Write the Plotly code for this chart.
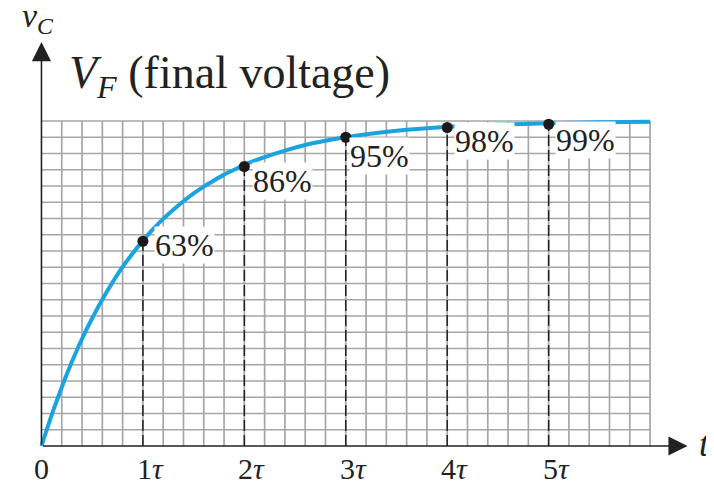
import numpy as np
import plotly.graph_objects as go

# ---- data ----
t_curve = [0, 0.1, 0.2, 0.3, 0.4, 0.5, 0.6, 0.7, 0.8, 0.9, 1.0, 1.1, 1.2, 1.3, 1.4,
           1.5, 1.6, 1.7, 1.8, 1.9, 2.0, 2.2, 2.4, 2.6, 2.8, 3.0, 3.3, 3.6, 4.0,
           4.5, 5.0, 5.5, 6.0]
v_curve = [0, 0.095, 0.181, 0.259, 0.330, 0.393, 0.451, 0.503, 0.551, 0.593, 0.632,
           0.667, 0.699, 0.727, 0.753, 0.777, 0.798, 0.817, 0.835, 0.850, 0.865,
           0.889, 0.909, 0.926, 0.939, 0.950, 0.963, 0.973, 0.982, 0.989, 0.993,
           0.996, 0.998]
tau_marks = [1, 2, 3, 4, 5]
pct_marks = [63, 86, 95, 98, 99]
pct_labels = ["63%", "86%", "95%", "98%", "99%"]
tick_vals = [0, 1, 2, 3, 4, 5]
tick_text = ["0", "1<i>τ</i>", "2<i>τ</i>", "3<i>τ</i>", "4<i>τ</i>", "5<i>τ</i>"]

SERIF = "Liberation Serif, Times New Roman, serif"
GRID = "#a6a6a6"
BLUE = "#1aa3e0"
INK = "#222222"

fig = go.Figure()

# grid (0.2 tau columns, 0.05 rows)
gx, gy = [], []
for x in np.arange(0.2, 6.0001, 0.2):
    gx += [x, x, None]
    gy += [0, 1, None]
for y in np.arange(0.05, 1.0001, 0.05):
    gx += [0, 6, None]
    gy += [y, y, None]
fig.add_trace(go.Scatter(x=gx, y=gy, mode="lines",
                         line=dict(color=GRID, width=1.7),
                         hoverinfo="skip", showlegend=False))

# dashed drop lines
yv = [p / 100 for p in pct_marks]
dx, dy = [], []
for x, y in zip(tau_marks, yv):
    dx += [x, x, None]
    dy += [0, y, None]
fig.add_trace(go.Scatter(x=dx, y=dy, mode="lines",
                         line=dict(color=INK, width=1.5, dash="11px,4px"),
                         hoverinfo="skip", showlegend=False))

# charging curve
fig.add_trace(go.Scatter(x=t_curve, y=v_curve, mode="lines",
                         line=dict(color=BLUE, width=4, shape="spline", smoothing=0.6),
                         showlegend=False))

# dots
fig.add_trace(go.Scatter(x=tau_marks, y=yv, mode="markers",
                         marker=dict(color="#1a1a1a", size=11),
                         showlegend=False))

# percent labels
yshifts = [-4, -14, -19, -13, -16]
xshifts = [11, 8, 3, 7, 6]
for x, y, lab, ys, xs in zip(tau_marks, yv, pct_labels, yshifts, xshifts):
    fig.add_annotation(x=x, y=y, text=lab, showarrow=False, xanchor="left",
                       yanchor="middle", xshift=xs, yshift=ys,
                       font=dict(family=SERIF, size=32, color=INK),
                       bgcolor="white", borderpad=0)

# axes with arrows
fig.add_annotation(x=6.37, y=0, ax=0, ay=0, axref="x", ayref="y", xref="x", yref="y",
                   text="", showarrow=True, arrowhead=2, arrowsize=2.4,
                   arrowwidth=1.6, arrowcolor=INK, standoff=0)
fig.add_annotation(x=0, y=1.243, ax=0, ay=0, axref="x", ayref="y", xref="x", yref="y",
                   text="", showarrow=True, arrowhead=2, arrowsize=2.4,
                   arrowwidth=1.6, arrowcolor=INK, standoff=0)

# tick labels
for v, txt in zip(tick_vals, tick_text):
    if v == 0:
        fig.add_annotation(x=v, y=0, text=txt, showarrow=False, xanchor="center",
                           yanchor="middle", yshift=-22,
                           font=dict(family=SERIF, size=30, color=INK))
    else:
        fig.add_annotation(x=v, y=0, text=txt, showarrow=False, xanchor="left",
                           yanchor="middle", xshift=-8, yshift=-22,
                           font=dict(family=SERIF, size=30, color=INK))

# axis names
fig.add_annotation(x=6.42, y=0, text="<i>t</i>", showarrow=False, xanchor="left",
                   yanchor="middle", xshift=4, yshift=2,
                   font=dict(family=SERIF, size=36, color=INK))
fig.add_annotation(x=0, y=1.243, text="<i>v</i><sub><i>C</i></sub>", showarrow=False,
                   xanchor="center", yanchor="bottom", xshift=-3, yshift=1,
                   font=dict(family=SERIF, size=34, color=INK))

# title
fig.add_annotation(x=0.25, y=1.06, text="<i>V</i><sub><i>F</i></sub> (final voltage)",
                   showarrow=False, xanchor="left", yanchor="bottom", yshift=-6,
                   font=dict(family=SERIF, size=46, color=INK))

fig.update_layout(
    width=714, height=485,
    margin=dict(l=0, r=0, t=0, b=0),
    paper_bgcolor="white", plot_bgcolor="white",
    xaxis=dict(range=[-0.330, 6.709], visible=False, fixedrange=True),
    yaxis=dict(range=[-0.1446, 1.3477], visible=False, fixedrange=True),
    showlegend=False,
)

fig.write_html("out.html")
